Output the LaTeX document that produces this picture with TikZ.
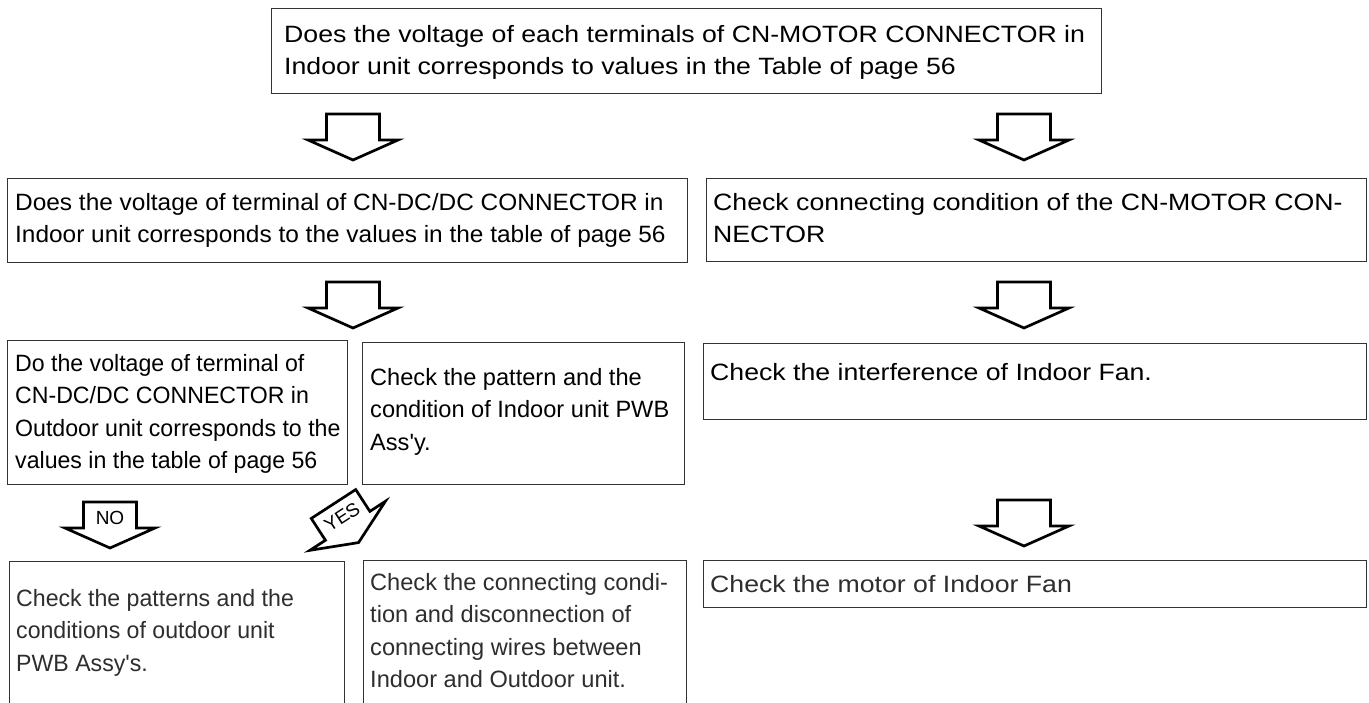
\documentclass[tikz,border=0pt]{standalone}
\usepackage{fontspec}
\setmainfont{Liberation Sans}
\newfontfamily\fsWide[FakeStretch=1.13]{Liberation Sans}
\newfontfamily\fsMid[FakeStretch=1.035]{Liberation Sans}
\newfontfamily\fsNarrow[FakeStretch=0.98]{Liberation Sans}
\begin{document}
\begin{tikzpicture}[x=1pt,y=-1pt,
  box/.style={draw=black!80, line width=1.4pt, inner sep=0pt, anchor=north west},
  txt/.style={anchor=north west, inner sep=0pt, align=left, font=\fontsize{23.6}{32.5}\selectfont},
  wide/.style={font=\fsWide\fontsize{23.6}{32.5}\selectfont},
  mid/.style={font=\fsMid\fontsize{23.6}{32.5}\selectfont},
  narrow/.style={font=\fsNarrow\fontsize{23.6}{32.5}\selectfont},
  faded/.style={text=black!82},
  lbl/.style={inner sep=0pt, font=\fontsize{19}{19}\selectfont},
  pics/barrow/.style={code={
    \draw[line width=2.7pt, fill=white] (-26.5,0) -- (26.5,0) -- (26.5,26) -- (45,26) -- (0,46) -- (-45,26) -- (-26.5,26) -- cycle;
  }}]
\clip (0,0) rectangle (1369,702);
\fill[white] (0,0) rectangle (1369,702);

% boxes
\node[box, minimum width=830pt, minimum height=85pt] (q1) at (271,8) {};
\node[box, minimum width=680pt, minimum height=84pt] (q2l) at (7,178) {};
\node[box, minimum width=660pt, minimum height=83pt] (q2r) at (706,178) {};
\node[box, minimum width=340pt, minimum height=144pt] (q3l) at (7,340) {};
\node[box, minimum width=322pt, minimum height=142pt] (q3m) at (362,342) {};
\node[box, minimum width=663pt, minimum height=76pt] (q3r) at (703,343) {};
\node[box, minimum width=335pt, minimum height=170pt] (q4l) at (9,561) {};
\node[box, minimum width=323pt, minimum height=170pt] (q4m) at (363,560) {};
\node[box, minimum width=663pt, minimum height=47pt] (q4r) at (703,560) {};

% texts
\node[txt, wide] (t1) at (284,25) {Does the voltage of each terminals of CN-MOTOR CONNECTOR in\\Indoor unit corresponds to values in the Table of page 56};
\node[txt, mid] (t2l) at (15,193) {Does the voltage of terminal of CN-DC/DC CONNECTOR in\\Indoor unit corresponds to the values in the table of page 56};
\node[txt, wide] (t2r) at (713,193) {Check connecting condition of the CN-MOTOR CON-\\NECTOR};
\node[txt, narrow] (t3l) at (15,354) {Do the voltage of terminal of\\CN-DC/DC CONNECTOR in\\Outdoor unit corresponds to the\\values in the table of page 56};
\node[txt] (t3m) at (370,368) {Check the pattern and the\\condition of Indoor unit PWB\\Ass\textquotesingle y.};
\node[txt, wide] (t3r) at (710,363) {Check the interference of Indoor Fan.};
\node[txt, narrow, faded] (t4l) at (16,589) {Check the patterns and the\\conditions of outdoor unit\\PWB Assy's.};
\node[txt, faded] (t4m) at (370,573) {Check the connecting condi-\\tion and disconnection of\\connecting wires between\\Indoor and Outdoor unit.};
\node[txt, wide, faded] (t4r) at (710,575) {Check the motor of Indoor Fan};

% block arrows
\pic at (353,114) {barrow};
\pic at (1024,114) {barrow};
\pic at (353,282) {barrow};
\pic at (1024,282) {barrow};
\pic at (1024,500) {barrow};
\pic at (110,502) {barrow};
\node[lbl] (no) at (110,518) {NO};
\pic[rotate=33] at (333.5,504) {barrow};
\node[lbl, rotate=33] (yes) at (342,517) {YES};
\end{tikzpicture}
\end{document}
